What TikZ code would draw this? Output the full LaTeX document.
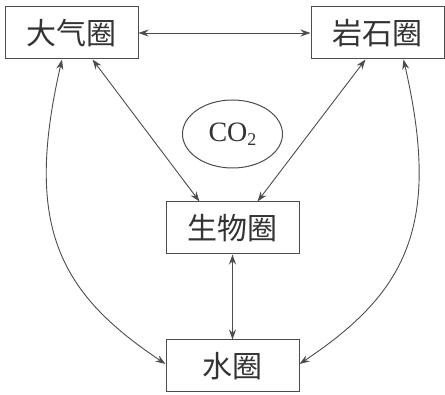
\documentclass[tikz,border=0pt]{standalone}
\usepackage{fontspec}
\newfontfamily\cjk{Noto Sans CJK SC}
\newfontfamily\lat{Liberation Serif}
\usepackage{tikz}
\usetikzlibrary{arrows.meta,positioning,shapes.geometric}

\begin{document}
\begin{tikzpicture}[
  x=1pt,y=1pt,
  every node/.style={font=\cjk\fontsize{30}{32}\selectfont,align=center,text=black!80},
  sphere/.style={draw=black!70,line width=1pt,minimum width=133pt,
    minimum height=52pt,inner sep=0pt},
  gas/.style={draw=black!70,line width=1pt,ellipse,minimum width=100pt,
    minimum height=68pt,inner sep=0pt,font=\lat\fontsize{28}{30}\selectfont},
  arrow/.style={{Stealth[length=10pt,width=7pt]}-{Stealth[length=10pt,width=7pt]},
    line width=0.9pt,black!70}
]
\useasboundingbox (0,0) rectangle (445,-395);
\node[sphere] (atm) at (71.5,-33) {大气圈};
\node[sphere,right=172pt of atm] (rock) {岩石圈};
\node[gas] (co) at (232.5,-134) {CO\raisebox{-0.35ex}{\fontsize{18}{18}\selectfont 2}};
\node[sphere] (bio) at (232.5,-228) {生物圈};
\node[sphere,below=85pt of bio] (water) {水圈};
\draw[arrow] (atm) -- (rock);
\draw[arrow] ([xshift=21pt]atm.south) -- ([xshift=-33pt]bio.north);
\draw[arrow] ([xshift=-12pt]rock.south) -- ([xshift=25pt]bio.north);
\draw[arrow] (bio) -- (water);
\draw[arrow] ([xshift=-9.5pt]atm.south) .. controls +(-38,-165) and +(-108,72) .. ([yshift=2pt]water.west);
\draw[arrow] ([xshift=26pt]rock.south) .. controls +(38,-165) and +(108,72) .. ([yshift=2pt]water.east);
\end{tikzpicture}
\end{document}
